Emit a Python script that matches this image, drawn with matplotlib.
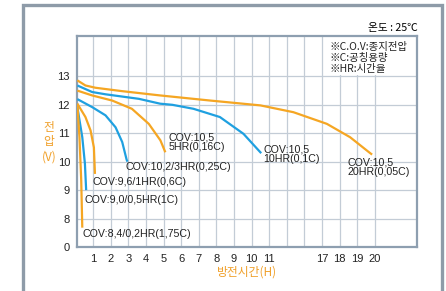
import matplotlib
matplotlib.use("Agg")
import matplotlib.pyplot as plt
from matplotlib.patches import Rectangle

plt.rcParams["font.family"] = ["Liberation Sans", "Noto Sans CJK KR", "DejaVu Sans"]

# x axis is broken: hours 1..11 sit at positions 1..11, then two blank
# grid slots, then hours 17..20 at positions 14..17.
# y axis is broken too: 0 V sits at position 7, 8..13 V at 8..13.
x_tick_pos = list(range(1, 18))
x_tick_labels = ["1", "2", "3", "4", "5", "6", "7", "8", "9", "10", "11",
                 "", "", "17", "18", "19", "20"]
y_tick_pos = [7, 8, 9, 10, 11, 12, 13]
y_tick_labels = ["0", "8", "9", "10", "11", "12", "13"]

# discharge curves (x, y in axis positions)
hr20_x = [0.1, 0.56, 1.13, 2.65, 4.8, 7.65, 10.5, 12.38, 14.28, 15.6, 16.74, 16.85]
hr20_y = [12.86, 12.68, 12.6, 12.48, 12.33, 12.15, 11.98, 11.74, 11.33, 10.86, 10.3, 10.25]

hr10_x = [0.1, 0.94, 1.7, 3.6, 4.8, 5.5, 6.7, 8.2, 9.54, 10.5, 10.55]
hr10_y = [12.68, 12.45, 12.37, 12.21, 12.04, 12.0, 11.86, 11.57, 10.98, 10.33, 10.3]

hr5_x = [0.1, 0.94, 2.08, 3.2, 4.16, 4.82, 5.1]
hr5_y = [12.5, 12.33, 12.15, 11.86, 11.33, 10.75, 10.33]

hr3_x = [0.1, 0.94, 1.7, 2.27, 2.65, 2.9, 2.95]
hr3_y = [12.2, 11.92, 11.63, 11.21, 10.69, 10.07, 10.0]

hr1_x = [0.1, 0.56, 0.85, 1.04, 1.1]
hr1_y = [12.04, 11.57, 11.1, 10.5, 9.57]

hr05_x = [0.1, 0.38, 0.53, 0.6]
hr05_y = [11.92, 10.86, 9.93, 9.0]

hr02_x = [0.1, 0.22, 0.32, 0.37, 0.38]
hr02_y = [12.04, 10.86, 9.34, 7.97, 7.68]

curves = [
    (hr20_x, hr20_y, "#f5a623"),
    (hr10_x, hr10_y, "#1fa0e0"),
    (hr5_x, hr5_y, "#f5a623"),
    (hr3_x, hr3_y, "#1fa0e0"),
    (hr1_x, hr1_y, "#f5a623"),
    (hr05_x, hr05_y, "#1fa0e0"),
    (hr02_x, hr02_y, "#f5a623"),
]

# end-voltage labels: (x, y, text)
labels = [
    (5.26, 10.68, "COV:10,5\n5HR(0,16C)"),
    (10.65, 10.27, "COV:10,5\n10HR(0,1C)"),
    (15.43, 9.81, "COV:10,5\n20HR(0,05C)"),
    (2.82, 9.8, "COV:10,2/3HR(0,25C)"),
    (0.94, 9.27, "COV:9,6/1HR(0,6C)"),
    (0.49, 8.67, "COV:9,0/0,5HR(1C)"),
    (0.375, 7.44, "COV:8,4/0,2HR(1,75C)"),
]

notes = ["※C.O.V:종지전압", "※C:공칭용량", "※HR:시간율"]

fig = plt.figure(figsize=(4.46, 2.91), dpi=100)
W, H = 446, 291

# outer gray frame
fig.patches.append(Rectangle((23 / W, -0.05), 419 / W, 1 - 5 / H + 0.05,
                             transform=fig.transFigure, fill=False,
                             edgecolor="#8e9ba8", linewidth=2.4))

ax = fig.add_axes([77 / W, 1 - 247 / H, 340 / W, 211 / H])
ax.set_xlim(0.08, 19.4)
ax.set_ylim(7, 14.42)

ax.set_xticks(x_tick_pos)
ax.set_xticklabels(x_tick_labels)
ax.set_yticks(y_tick_pos)
ax.set_yticklabels(y_tick_labels)
ax.tick_params(length=0, labelsize=8, colors="#222222", pad=5)
ax.grid(True, color="#c3ccd6", linewidth=0.9)
ax.set_axisbelow(True)
for s in ax.spines.values():
    s.set_color("#8e9fb0")
    s.set_linewidth(1.6)

# white box behind the notes
ax.add_patch(Rectangle((14.1, 13.05), 6, 2, facecolor="white",
                       edgecolor="none", zorder=1.5))

for xs, ys, c in curves:
    ax.plot(xs, ys, color=c, linewidth=1.6, solid_capstyle="butt", zorder=3)

for x, y, t in labels:
    ax.text(x, y, t, fontsize=7.7, ha="left", va="center",
            linespacing=0.95, color="#222222", zorder=4)

for i, t in enumerate(notes):
    ax.text(14.4, 14.02 - i * 0.385, t, fontsize=7.5, ha="left",
            va="center", color="#222222", zorder=4,
            family=["Noto Sans CJK KR", "DejaVu Sans"])

orange = "#f0a02a"
fig.text(418 / W, 1 - 28 / H, "온도 : 25℃", fontsize=7.7, ha="right",
         va="center", family=["Noto Sans CJK KR", "DejaVu Sans"])
fig.text(247 / W, 1 - 272 / H, "방전시간(H)", fontsize=8.5, ha="center",
         va="center", color=orange, family=["Noto Sans CJK KR", "DejaVu Sans"])
fig.text(49 / W, 1 - 127 / H, "전", fontsize=8.5, ha="center", va="center",
         color=orange, family=["Noto Sans CJK KR", "DejaVu Sans"])
fig.text(49 / W, 1 - 141 / H, "압", fontsize=8.5, ha="center", va="center",
         color=orange, family=["Noto Sans CJK KR", "DejaVu Sans"])
fig.text(49 / W, 1 - 157 / H, "(V)", fontsize=8.5, ha="center", va="center",
         color=orange, family=["Noto Sans CJK KR", "DejaVu Sans"])

fig.savefig("out.png", dpi=100)
